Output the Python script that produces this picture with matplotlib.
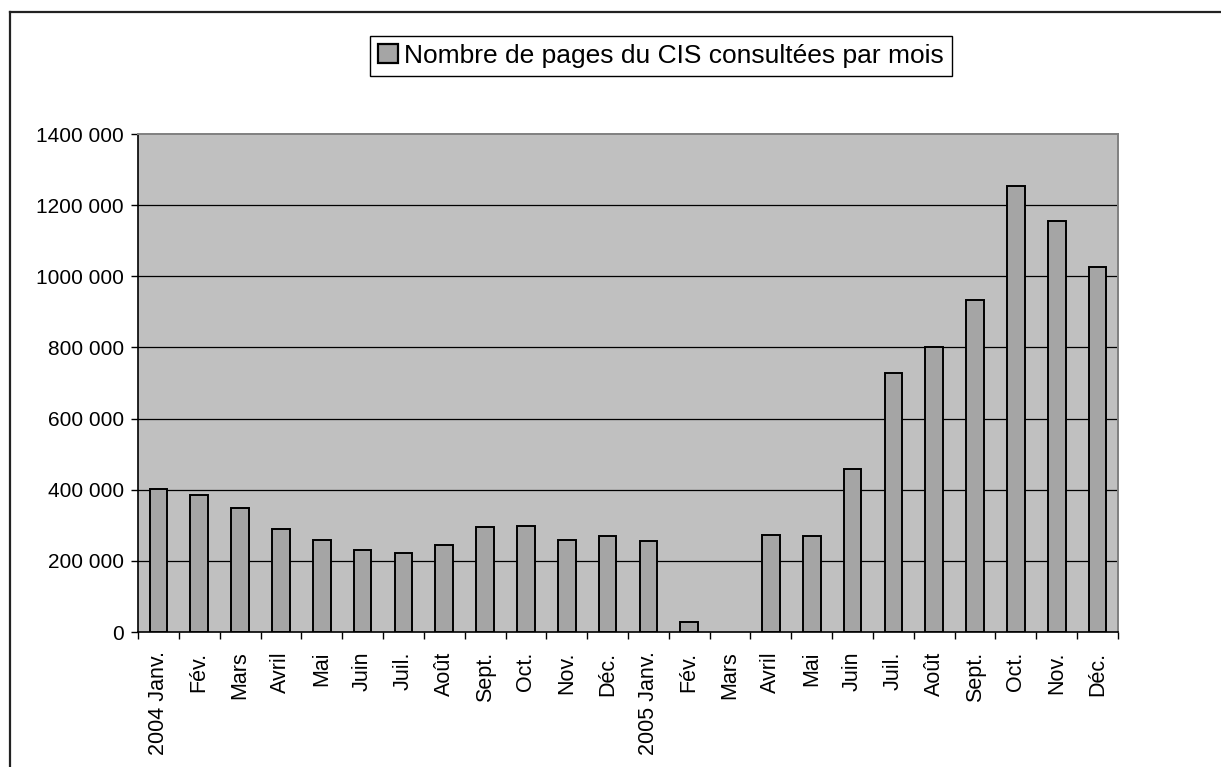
import numpy as np
import matplotlib
matplotlib.use("Agg")
import matplotlib.pyplot as plt
from matplotlib.lines import Line2D
from matplotlib.patches import Patch

plt.rcParams['font.family'] = ['Liberation Sans', 'DejaVu Sans']

months = ["2004 Janv.", "Fév.", "Mars", "Avril", "Mai", "Juin", "Juil.", "Août",
          "Sept.", "Oct.", "Nov.", "Déc.",
          "2005 Janv.", "Fév.", "Mars", "Avril", "Mai", "Juin", "Juil.", "Août",
          "Sept.", "Oct.", "Nov.", "Déc."]
pages = [402000, 385000, 349000, 290000, 260000, 231000, 223000, 245000,
         295000, 298000, 260000, 270000,
         256000, 28000, 0, 274000, 270000, 457000, 729000, 802000,
         933000, 1254000, 1156000, 1026000]
yticks = [0, 200000, 400000, 600000, 800000, 1000000, 1200000, 1400000]
ytick_labels = ["0", "200 000", "400 000", "600 000", "800 000",
                "1000 000", "1200 000", "1400 000"]
legend_label = "Nombre de pages du CIS consultées par mois"

W, H = 1221, 767
fig = plt.figure(figsize=(W / 100, H / 100), dpi=100)
fig.patch.set_facecolor("white")

# outer frame (top and left lines)
fig.add_artist(Line2D([10 / W, 1.0], [1 - 12 / H, 1 - 12 / H],
                      transform=fig.transFigure, color="#222222", lw=1.6))
fig.add_artist(Line2D([10 / W, 10 / W], [0, 1 - 12 / H],
                      transform=fig.transFigure, color="#222222", lw=1.6))

left, right, top, bottom = 138, 1118, 134, 632
ax = fig.add_axes([left / W, 1 - bottom / H, (right - left) / W, (bottom - top) / H])
ax.set_facecolor("#C0C0C0")

x = np.arange(len(months))
vals = np.array(pages, dtype=float)
mask = vals > 0
ax.bar(x[mask], vals[mask], width=0.43, color="#A5A5A5", edgecolor="black",
       linewidth=1.4, zorder=3)

ax.set_xlim(-0.5, len(months) - 0.5)
ax.set_ylim(0, 1400000)

ax.set_yticks(yticks)
ax.set_yticklabels(ytick_labels, fontsize=15)
for yv in yticks[1:-1]:
    ax.axhline(yv, color="black", lw=0.9, zorder=1)

ax.set_xticks(x)
ax.set_xticklabels(months, rotation=90, fontsize=15.5, va="top", ha="center")
ax.tick_params(axis="x", which="major", length=0, pad=14)
ax.set_xticks(np.arange(-0.5, len(months) + 0.5, 1), minor=True)
ax.tick_params(axis="x", which="minor", length=5, width=1, color="black",
               direction="out")
ax.tick_params(axis="y", length=5, width=1, color="black", direction="out", pad=5)

for s in ["top", "right"]:
    ax.spines[s].set_color("#808080")
    ax.spines[s].set_linewidth(1.4)
for s in ["left", "bottom"]:
    ax.spines[s].set_color("black")
    ax.spines[s].set_linewidth(1.2)

handle = Patch(facecolor="#A5A5A5", edgecolor="black", linewidth=1.6)
leg = fig.legend([handle], [legend_label], loc="upper left",
                 bbox_to_anchor=(370 / W, 1 - 36 / H), fontsize=19,
                 frameon=True, fancybox=False, framealpha=1,
                 edgecolor="black", borderpad=0.3, handlelength=0.75,
                 handleheight=0.75, handletextpad=0.25, borderaxespad=0)
leg.get_frame().set_linewidth(1.0)

fig.savefig("out.png", dpi=100, facecolor="white")
